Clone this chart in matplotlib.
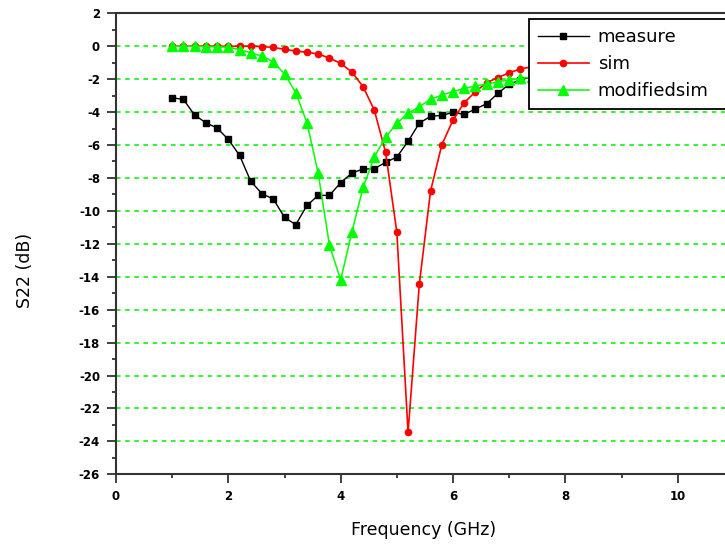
import matplotlib
matplotlib.use('Agg')
import matplotlib.pyplot as plt
from matplotlib.ticker import MultipleLocator

freq = [1.0, 1.2, 1.4, 1.6, 1.8, 2.0, 2.2, 2.4, 2.6, 2.8, 3.0, 3.2, 3.4, 3.6, 3.8,
        4.0, 4.2, 4.4, 4.6, 4.8, 5.0, 5.2, 5.4, 5.6, 5.8, 6.0, 6.2, 6.4, 6.6, 6.8,
        7.0, 7.2, 7.4]
measure = [-3.13, -3.23, -4.18, -4.65, -4.97, -5.66, -6.63, -8.21, -8.96, -9.28,
           -10.39, -10.84, -9.67, -9.06, -9.06, -8.29, -7.70, -7.46, -7.44, -7.05,
           -6.73, -5.78, -4.67, -4.26, -4.20, -4.02, -4.14, -3.81, -3.49, -2.86,
           -2.31, -2.05, -1.85]
sim = [0.0, 0.0, 0.0, 0.0, 0.0, 0.0, 0.0, 0.0, -0.02, -0.07,
       -0.19, -0.29, -0.37, -0.47, -0.72, -1.04, -1.57, -2.46, -3.89, -6.45,
       -11.3, -23.46, -14.46, -8.80, -6.0, -4.48, -3.43, -2.76, -2.21, -1.91,
       -1.61, -1.38, -1.25]
modifiedsim = [0.0, 0.0, 0.0, -0.02, -0.05, -0.05, -0.2, -0.4, -0.6, -0.94,
               -1.69, -2.82, -4.65, -7.72, -12.08, -14.2, -11.27, -8.57, -6.71, -5.53,
               -4.68, -4.08, -3.67, -3.23, -2.96, -2.76, -2.56, -2.42, -2.30, -2.15,
               -2.05, -1.95, -1.88]
xticks = [0, 2, 4, 6, 8, 10]

plt.rcParams['axes.unicode_minus'] = False

fig = plt.figure(figsize=(7.25, 5.47), dpi=100)
# axes run past the right edge of the picture, like the original screenshot
ax = fig.add_axes([116/725, 1 - 474.3/547, 674/725, 461/547])

ax.plot(freq, measure, '-s', color='black', lw=1, ms=5, label='measure', zorder=3)
ax.plot(freq, sim, '-o', color='#ff0000', lw=1.2, ms=4.5, label='sim', zorder=3)
ax.plot(freq, modifiedsim, '-^', color='#00ff00', lw=1.1, ms=6.5, label='modifiedsim', zorder=3)

ax.set_xlim(0, 12)
ax.set_ylim(-26, 2)
ax.set_xticks(xticks)
ax.xaxis.set_minor_locator(MultipleLocator(1))
ax.yaxis.set_major_locator(MultipleLocator(2))
ax.yaxis.set_minor_locator(MultipleLocator(1))
ax.tick_params(which='major', direction='out', length=6.5, width=1.3, color='#333333',
               pad=5, labelsize=8.5)
ax.tick_params(which='minor', direction='out', length=3, width=1.3, color='#333333')
for lab in ax.get_xticklabels() + ax.get_yticklabels():
    lab.set_fontweight('bold')
for sp in ax.spines.values():
    sp.set_linewidth(1.5)
    sp.set_color('#333333')

ax.yaxis.grid(True, which='major', color='#00ee00', linestyle=(0, (3, 3)), lw=1.1, zorder=1)
ax.set_axisbelow(True)

fig.text(424/725, 1 - 530/547, 'Frequency (GHz)', ha='center', va='center', fontsize=12.5)
fig.text(25/725, 1 - 270/547, 'S22 (dB)', ha='center', va='center', fontsize=12.5, rotation=90)

# legend box also runs off the right edge
leg = fig.legend(loc='upper left', bbox_to_anchor=(529/725, 1 - 19.3/547, 240/725, 0),
                 mode='expand', fontsize=13,
                 numpoints=1, handlelength=2.8, handletextpad=0.5, labelspacing=0.5,
                 borderpad=0.5, borderaxespad=0, fancybox=False, framealpha=1,
                 edgecolor='black')
leg.get_frame().set_linewidth(1.3)

fig.savefig('out.png', dpi=100)
